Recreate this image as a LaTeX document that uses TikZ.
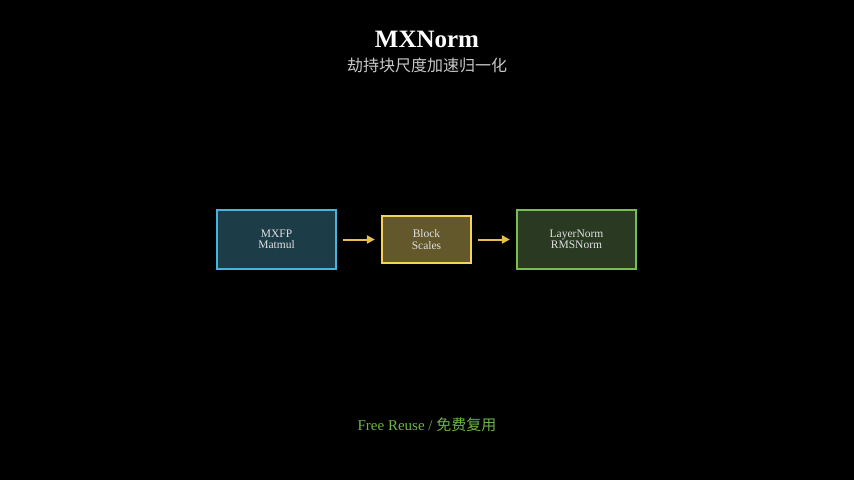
\documentclass[tikz,border=0pt]{standalone}
\usepackage{fontspec}
\setmainfont{Liberation Serif}
\newfontfamily\cjk{Noto Sans CJK SC}
\usetikzlibrary{arrows.meta}
\definecolor{fgtext}{HTML}{E0E0E0}
\begin{document}
\begin{tikzpicture}[x=1pt,y=-1pt,
  box/.style={draw,line width=2.2pt,text=fgtext,font=\fontsize{11.5}{11.5}\selectfont,align=center,inner sep=0pt},
  arr/.style={draw={rgb,255:red,230;green,190;blue,80},line width=2pt,-{Triangle[length=8pt,width=8pt]}}]
\fill[black] (0,0) rectangle (854,480);
\useasboundingbox (0,0) rectangle (854,480);
\node[font=\bfseries\fontsize{25}{25}\selectfont,text=white] (title) at (427,39) {MXNorm};
\node[font=\cjk\fontsize{16}{16}\selectfont,text={rgb,255:red,200;green,200;blue,200}] (sub) at (427,65) {劫持块尺度加速归一化};
\node[box,draw={rgb,255:red,70;green,180;blue,220},fill={rgb,255:red,28;green,60;blue,72},minimum width=119pt,minimum height=59pt] (a) at (276.5,239.5) {MXFP\\Matmul};
\node[box,draw={rgb,255:red,245;green,210;blue,90},fill={rgb,255:red,98;green,88;blue,44},minimum width=89pt,minimum height=47pt] (b) at (426.5,239.5) {Block\\Scales};
\node[box,draw={rgb,255:red,120;green,190;blue,80},fill={rgb,255:red,42;green,58;blue,34},minimum width=119pt,minimum height=59pt] (c) at (576.5,239.5) {LayerNorm\\RMSNorm};
\draw[arr] ([xshift=6pt]a.east) -- ([xshift=-6pt]b.west);
\draw[arr] ([xshift=6pt]b.east) -- ([xshift=-6pt]c.west);
\node[font=\fontsize{15}{15}\selectfont,text={rgb,255:red,110;green,180;blue,70}] (foot) at (427,425) {Free Reuse / {\cjk 免费复用}};
\end{tikzpicture}
\end{document}
